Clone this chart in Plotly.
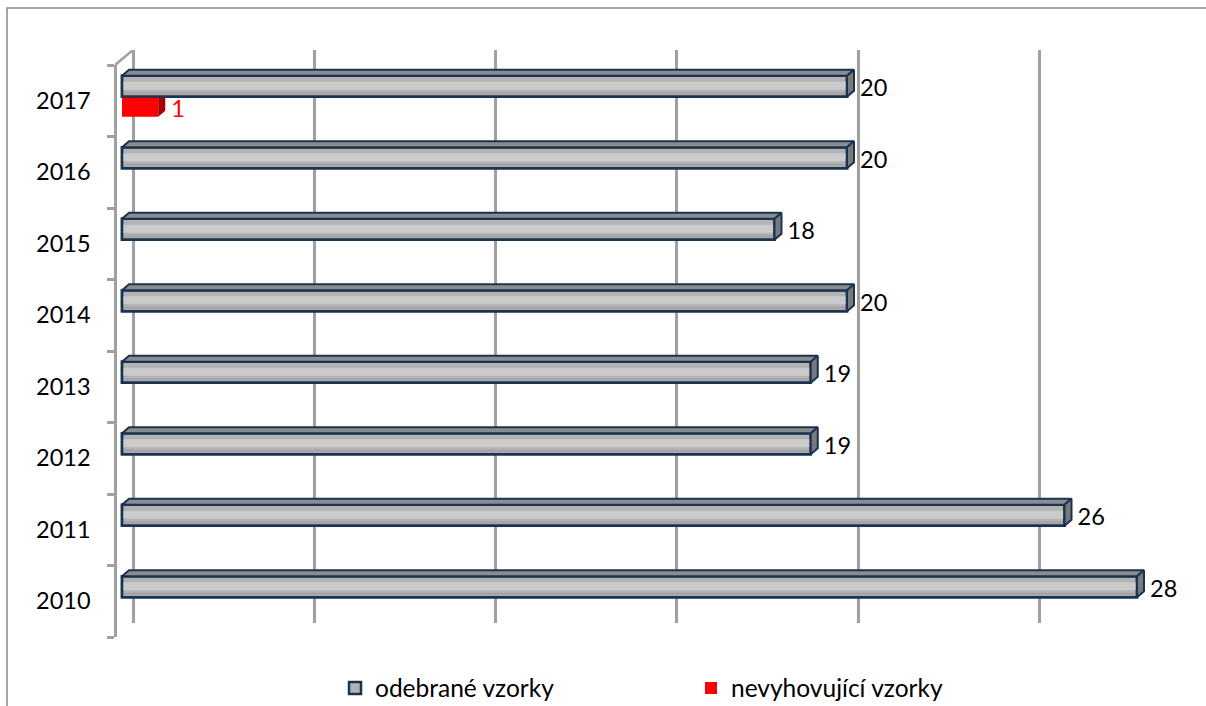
import plotly.graph_objects as go

# ---------------- data ----------------
years = ["2010", "2011", "2012", "2013", "2014", "2015", "2016", "2017"]
odebrane = [28, 26, 19, 19, 20, 18, 20, 20]
nevyhovujici = [None, None, None, None, None, None, None, 1]
series_names = ["odebrané vzorky", "nevyhovující vzorky"]
grid_values = [0, 5, 10, 15, 20, 25]

# ---------------- geometry (pixels) ----------------
FIG_W, FIG_H = 1206, 706
PLOT_L, PLOT_R, PLOT_T, PLOT_B = 115, 1170, 50, 637
PX_PER_UNIT = 36.25
BAR_ZERO_PX = 122
BACK_ZERO_PX = 133
FRONT_TOP_PX = 65
BACK_BOTTOM_PX = 623
W = PLOT_R - PLOT_L
H = PLOT_B - PLOT_T
BAND_PX = (PLOT_B - FRONT_TOP_PX) / len(years)

DX = 7 / PX_PER_UNIT          # bar depth (x, data units)
DY = 6 / BAND_PX              # bar depth (y, data units)
LABEL_PAD = 6 / PX_PER_UNIT
LABEL_DROP = 4 / BAND_PX
GRAY_OFF, GRAY_W = 0.055, 0.295
RED_OFF, RED_W = -0.224, 0.266

NAVY = "#1A3352"
AXIS_GRAY = "#A0A0A0"
FONT = "Lato"

pos = list(range(len(years)))

fig = go.Figure()

# dummy trace to create the back-wall subplot (x / y)
fig.add_trace(go.Scatter(x=[None], y=[None], xaxis="x", yaxis="y",
                         showlegend=False, hoverinfo="skip"))

# ---- gray bars (front face) ----
fig.add_trace(go.Bar(
    y=pos, x=odebrane, orientation="h", xaxis="x2", yaxis="y2",
    offset=GRAY_OFF, width=GRAY_W, name=series_names[0],
    marker=dict(color="#B3B3B3", line=dict(color=NAVY, width=2.5)),
    hoverinfo="x"))
# lighter stripe for the brushed texture
fig.add_trace(go.Bar(
    y=pos, x=odebrane, orientation="h", xaxis="x2", yaxis="y2",
    offset=GRAY_OFF + 0.10, width=0.11, showlegend=False,
    marker=dict(color="#CBCBCB", line=dict(width=0)), hoverinfo="skip"))
fig.add_trace(go.Bar(
    y=pos, x=odebrane, orientation="h", xaxis="x2", yaxis="y2",
    offset=GRAY_OFF + 0.03, width=0.035, showlegend=False,
    marker=dict(color="#A4A4A4", line=dict(width=0)), hoverinfo="skip"))
# outline on top
fig.add_trace(go.Bar(
    y=pos, x=odebrane, orientation="h", xaxis="x2", yaxis="y2",
    offset=GRAY_OFF, width=GRAY_W, showlegend=False,
    marker=dict(color="rgba(0,0,0,0)", line=dict(color=NAVY, width=2.5)),
    hoverinfo="skip"))

# ---- red bars ----
fig.add_trace(go.Bar(
    y=pos, x=nevyhovujici, orientation="h", xaxis="x2", yaxis="y2",
    offset=RED_OFF, width=RED_W, name=series_names[1],
    marker=dict(color="#FF0000", line=dict(width=0)), hoverinfo="x"))

# ---- 3D faces ----
for c, v in zip(pos, nevyhovujici):
    if not v:
        continue
    top = c + RED_OFF + RED_W
    bot = c + RED_OFF
    fig.add_trace(go.Scatter(
        x=[v, v + DX, v + DX, v, v], y=[top, top, bot + DY, bot, top],
        xaxis="x2", yaxis="y2", mode="lines", fill="toself",
        fillcolor="#A30000", line=dict(width=0, color="#A30000"),
        showlegend=False, hoverinfo="skip"))

for c, v in zip(pos, odebrane):
    top = c + GRAY_OFF + GRAY_W
    bot = c + GRAY_OFF
    fig.add_trace(go.Scatter(
        x=[0, DX, v + DX, v, 0], y=[top, top + DY, top + DY, top, top],
        xaxis="x2", yaxis="y2", mode="lines", fill="toself",
        fillcolor="#8C8C8C", line=dict(width=2, color=NAVY),
        showlegend=False, hoverinfo="skip"))
    fig.add_trace(go.Scatter(
        x=[v, v + DX, v + DX, v, v], y=[top, top + DY, bot + DY, bot, top],
        xaxis="x2", yaxis="y2", mode="lines", fill="toself",
        fillcolor="#7A7A7A", line=dict(width=2, color=NAVY),
        showlegend=False, hoverinfo="skip"))

# ---- data labels ----
fig.add_trace(go.Scatter(
    x=[v + DX + LABEL_PAD for v in odebrane],
    y=[c + GRAY_OFF + GRAY_W / 2 - LABEL_DROP for c in pos],
    text=[str(v) for v in odebrane], mode="text", textposition="middle right",
    textfont=dict(family=FONT, size=23.5, color="black"),
    xaxis="x2", yaxis="y2", showlegend=False, hoverinfo="skip", cliponaxis=False))
red_pts = [(c, v) for c, v in zip(pos, nevyhovujici) if v]
fig.add_trace(go.Scatter(
    x=[v + DX + LABEL_PAD for c, v in red_pts],
    y=[c + RED_OFF + RED_W / 2 - LABEL_DROP for c, v in red_pts],
    text=[str(v) for c, v in red_pts], mode="text", textposition="middle right",
    textfont=dict(family=FONT, size=23.5, color="#FF0000"),
    xaxis="x2", yaxis="y2", showlegend=False, hoverinfo="skip", cliponaxis=False))

# ---------------- shapes ----------------
shapes = []
# top-left diagonal of the wall
shapes.append(dict(type="line", xref="x", yref="y",
                   xsizemode="pixel", xanchor=0, x0=0, x1=-(BACK_ZERO_PX - PLOT_L),
                   ysizemode="pixel", yanchor=len(years) - 0.5, y0=0,
                   y1=-(FRONT_TOP_PX - PLOT_T),
                   line=dict(color=AXIS_GRAY, width=2.5), layer="below"))
# floor diagonals
for g in grid_values:
    shapes.append(dict(type="line", xref="x", yref="y",
                       xsizemode="pixel", xanchor=g, x0=0, x1=-(BACK_ZERO_PX - PLOT_L),
                       ysizemode="pixel", yanchor=-0.5, y0=0,
                       y1=-(PLOT_B - BACK_BOTTOM_PX),
                       line=dict(color=AXIS_GRAY, width=2.5), layer="below"))
# outer border
shapes.append(dict(type="rect", xref="paper", yref="paper",
                   x0=(7 - PLOT_L) / W, x1=(FIG_W + 10 - PLOT_L) / W,
                   y0=(PLOT_B - FIG_H - 10) / H, y1=(PLOT_B - 8) / H,
                   line=dict(color="#888888", width=1.5), fillcolor="rgba(0,0,0,0)"))

fig.update_layout(
    width=FIG_W, height=FIG_H,
    margin=dict(l=PLOT_L, r=FIG_W - PLOT_R, t=PLOT_T, b=FIG_H - PLOT_B, autoexpand=False),
    paper_bgcolor="white", plot_bgcolor="rgba(0,0,0,0)",
    barmode="overlay",
    font=dict(family=FONT, size=23, color="black"),
    shapes=shapes,
    showlegend=True,
    legend=dict(orientation="h", xref="container", x=335 / FIG_W, xanchor="left",
                yref="container", y=1 - 688 / FIG_H, yanchor="middle",
                font=dict(family=FONT, size=24.5, color="black"),
                entrywidth=311, entrywidthmode="pixels", itemwidth=30,
                bgcolor="rgba(0,0,0,0)", traceorder="normal"),
    # back wall axes
    xaxis=dict(domain=[0, 1], anchor="y",
               range=[(PLOT_L - BACK_ZERO_PX) / PX_PER_UNIT, (PLOT_R - BACK_ZERO_PX) / PX_PER_UNIT],
               tickmode="array", tickvals=grid_values, showticklabels=False, ticks="",
               showgrid=True, gridcolor=AXIS_GRAY, gridwidth=2.5,
               zeroline=False, showline=False, fixedrange=True),
    yaxis=dict(domain=[(PLOT_B - BACK_BOTTOM_PX) / H, 1], anchor="x",
               range=[-0.5, len(years) - 0.5],
               showticklabels=False, ticks="", showgrid=False, zeroline=False,
               showline=False, fixedrange=True),
    # bar axes
    xaxis2=dict(domain=[0, 1], anchor="y2",
                range=[(PLOT_L - BAR_ZERO_PX) / PX_PER_UNIT, (PLOT_R - BAR_ZERO_PX) / PX_PER_UNIT],
                showticklabels=False, ticks="", showgrid=False, zeroline=False,
                showline=False, fixedrange=True),
    yaxis2=dict(domain=[0, (PLOT_B - FRONT_TOP_PX) / H], anchor="free", position=0,
                range=[-0.5, len(years) - 0.5],
                tickmode="array", tickvals=pos, ticktext=years,
                ticks="outside", ticklen=19, tickcolor="rgba(0,0,0,0)",
                tickfont=dict(family=FONT, size=23.5, color="black"),
                minor=dict(tickmode="array", tickvals=[p - 0.5 for p in pos] + [len(years) - 0.5],
                           ticks="outside", ticklen=7, tickcolor=AXIS_GRAY, tickwidth=2.5,
                           showgrid=False),
                showgrid=False, zeroline=False,
                showline=True, linecolor=AXIS_GRAY, linewidth=2.5, fixedrange=True),
)

fig.write_html("out.html")
